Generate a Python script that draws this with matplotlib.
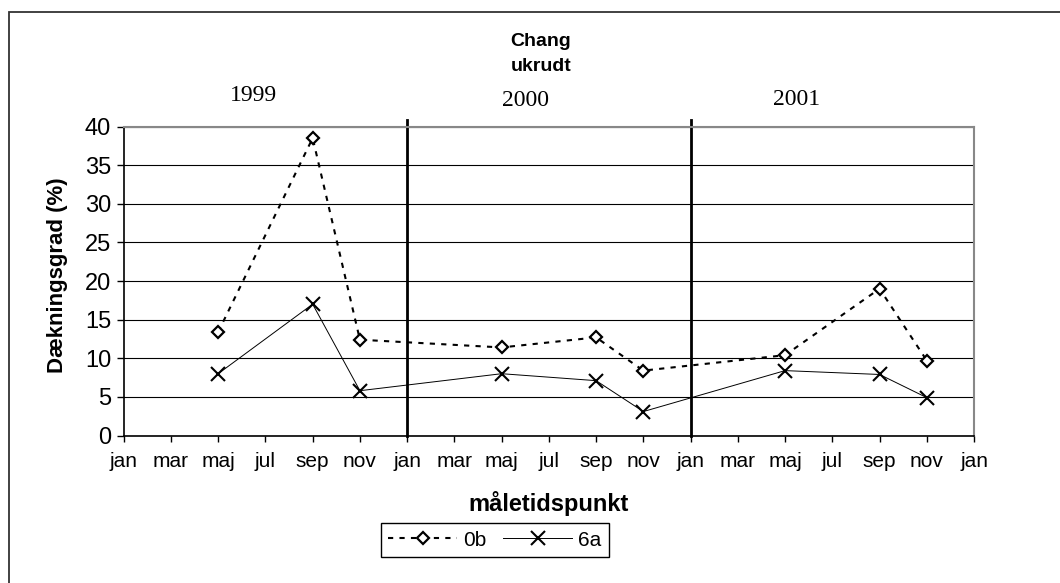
import matplotlib
matplotlib.use("Agg")
import matplotlib.pyplot as plt
from matplotlib.patches import Rectangle

plt.rcParams["font.family"] = ["Liberation Sans", "DejaVu Sans"]

# months since jan 1999
months = [4, 8, 10, 16, 20, 22, 28, 32, 34]
val_0b = [13.4, 38.5, 12.4, 11.4, 12.7, 8.4, 10.4, 19.0, 9.7]
val_6a = [8.0, 17.0, 5.8, 8.0, 7.1, 3.1, 8.4, 7.9, 4.9]

tick_months = list(range(0, 37, 2))
month_names = ["jan", "mar", "maj", "jul", "sep", "nov"]
tick_labels = [month_names[(m // 2) % 6] for m in tick_months]

years = ["1999", "2000", "2001"]
year_x = [5.5, 17.0, 28.5]
year_y = [44.0, 43.4, 43.5]
year_breaks = [12, 24]

fig = plt.figure(figsize=(10.6, 5.83), dpi=100)
ax = fig.add_axes([0.1167, 0.253, 0.8022, 0.530])

# outer frame (only top and left visible)
fig.patches.append(Rectangle((8.5 / 1060, -0.2), 1.5, 1.2 - 12 / 583,
                             transform=fig.transFigure, fill=False,
                             edgecolor="#333333", linewidth=1.3))

ax.set_xlim(0, 36)
ax.set_ylim(0, 40)
ax.set_yticks(range(0, 41, 5))
ax.set_xticks(tick_months)
ax.set_xticklabels(tick_labels)
ax.grid(axis="y", color="black", linewidth=0.8)
ax.set_axisbelow(True)

for sp in ["top", "right"]:
    ax.spines[sp].set_color("#888888")
    ax.spines[sp].set_linewidth(1.5)
for sp in ["left", "bottom"]:
    ax.spines[sp].set_color("black")
    ax.spines[sp].set_linewidth(1.2)

ax.tick_params(axis="y", labelsize=17, length=5, width=1, pad=4)
ax.tick_params(axis="x", labelsize=15, length=4, width=1, pad=8)

for xb in year_breaks:
    ax.plot([xb, xb], [0, 40.9], color="black", linewidth=2, clip_on=False)

ax.plot(months, val_0b, color="black", linestyle=(0, (2.5, 3)), linewidth=1.5,
        marker="D", markersize=6.5, markerfacecolor="white",
        markeredgecolor="black", markeredgewidth=1.6, label="0b")
ax.plot(months, val_6a, color="black", linestyle="-", linewidth=0.7,
        marker="x", markersize=10, markeredgewidth=1.5, label="6a")

for name, x, y in zip(years, year_x, year_y):
    ax.text(x, y, name, ha="center", va="center", fontsize=17,
            family=["Liberation Serif", "DejaVu Serif"])

fig.text(541 / 1060, 1 - 54 / 583, "Chang\nukrudt", ha="center", va="center",
         fontsize=14, fontweight="bold", linespacing=1.6)

ax.set_xlabel("måletidspunkt", fontsize=17, fontweight="bold")
ax.xaxis.set_label_coords(0.5, -0.18)
ax.set_ylabel("Dækningsgrad (%)", fontsize=16, fontweight="bold")
ax.yaxis.set_label_coords(-0.066, 0.52)

leg = fig.legend(loc="center", bbox_to_anchor=(495 / 1060, 1 - 540 / 583),
                 ncol=2, numpoints=1, fontsize=15, handlelength=3.3,
                 columnspacing=0.8, handletextpad=0.3, borderpad=0.35,
                 fancybox=False, framealpha=1, edgecolor="black")
leg.get_frame().set_linewidth(1.0)

fig.savefig("out.png", dpi=100)
